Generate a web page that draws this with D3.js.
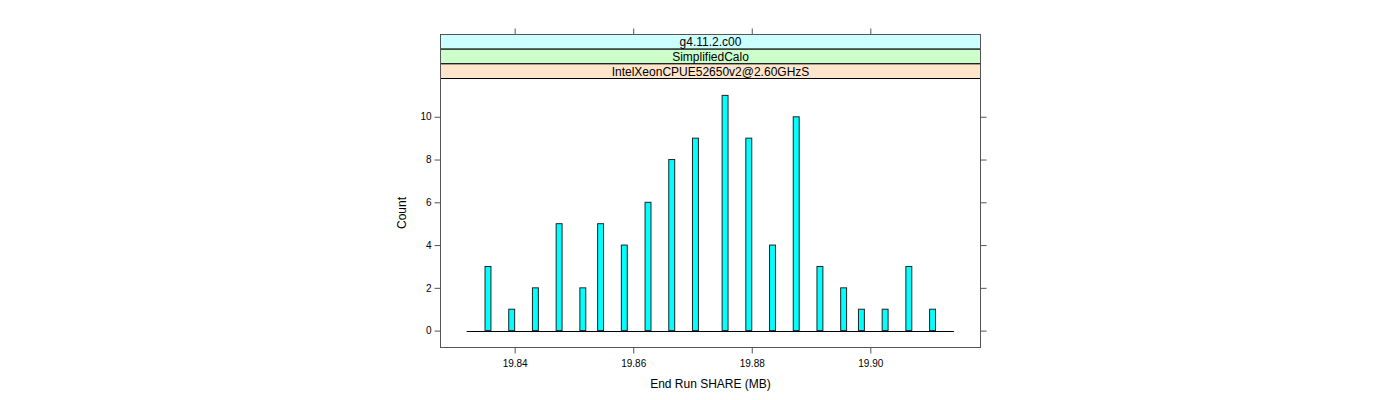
<!DOCTYPE html>
<html><head><meta charset="utf-8">
<script src="https://cdn.jsdelivr.net/npm/d3@7"></script>
<style>body{margin:0;background:#fff}svg{display:block}text{font-family:"Liberation Sans",Arial,sans-serif}</style>
</head><body>
<script>
const binCenters = [19.8355,19.8395,19.8435,19.8475,19.8515,19.8545,19.8585,19.8625,19.8665,19.8705,19.8755,19.8795,19.8835,19.8875,19.8915,19.8955,19.8985,19.9025,19.9065,19.9105];
const counts = [3,1,2,5,2,5,4,6,8,9,11,9,4,10,3,2,1,1,3,1];
const barWidth = 0.001;
const baselineRange = [19.8319, 19.9141];
const xTicks = [19.84,19.86,19.88,19.90];
const yTicks = [0,2,4,6,8,10];
const strips = ["g4.11.2.c00","SimplifiedCalo","IntelXeonCPUE52650v2@2.60GHzS"];
const stripColors = ["#CCFFFF","#CCFFCC","#FFE5CC"];

const W=1400,H=400;
const L=440.5,R=980.5,T=34.5,PT=78.5,B=347.5;
const svg=d3.select("body").append("svg").attr("width",W).attr("height",H);
const x=d3.scaleLinear().domain([19.82749,19.91859]).range([L,R]);
const y=d3.scaleLinear().domain([-0.79,11.79]).range([B,PT]);
const sh=(PT-T)/strips.length;

// strips
strips.forEach((s,i)=>{
  svg.append("rect").attr("x",L).attr("y",T+i*sh).attr("width",R-L).attr("height",sh)
    .attr("fill",stripColors[i]).attr("stroke","#000").attr("stroke-width",1);
  svg.append("text").attr("x",(L+R)/2).attr("y",T+i*sh+sh/2+4.5).attr("text-anchor","middle")
    .attr("font-size",12).attr("fill","#000").text(s);
});

// baseline
svg.append("line").attr("x1",x(baselineRange[0])).attr("x2",x(baselineRange[1]))
  .attr("y1",Math.round(y(0))+0.5).attr("y2",Math.round(y(0))+0.5).attr("stroke","#000");

// bars
svg.selectAll("rect.bar").data(binCenters).enter().append("rect").attr("class","bar")
  .attr("x",(d)=>x(d-barWidth/2)).attr("width",(d)=>x(d+barWidth/2)-x(d-barWidth/2))
  .attr("y",(d,i)=>y(counts[i])).attr("height",(d,i)=>y(0)-y(counts[i]))
  .attr("fill","#00FFFF").attr("stroke","#222").attr("stroke-width",1);

// frame
svg.append("rect").attr("x",L).attr("y",T).attr("width",R-L).attr("height",B-T)
  .attr("fill","none").attr("stroke","#555").attr("stroke-width",1);

// axes
const yl=d3.axisLeft(y).tickValues(yTicks).tickSize(6).tickFormat(d3.format("d"));
const yr=d3.axisRight(y).tickValues(yTicks).tickSize(6).tickFormat("");
const xb=d3.axisBottom(x).tickValues(xTicks).tickSize(6).tickFormat(d3.format(".2f"));
const xt=d3.axisTop(x).tickValues(xTicks).tickSize(6).tickFormat("");
function style(g){g.select(".domain").remove();g.selectAll("line").attr("stroke","#555");
  g.selectAll("text").attr("font-size",10).attr("fill","#000").style("font-family","Liberation Sans, Arial, sans-serif");}
svg.append("g").attr("transform",`translate(${L},0)`).call(yl).call(style).selectAll("text").attr("x",-9);
svg.append("g").attr("transform",`translate(${R},0)`).call(yr).call(style);
svg.append("g").attr("transform",`translate(0,${B})`).call(xb).call(style).selectAll("text").attr("y",12);
svg.append("g").attr("transform",`translate(0,${T})`).call(xt).call(style);

// labels
svg.append("text").attr("x",(L+R)/2).attr("y",388).attr("text-anchor","middle").attr("font-size",12).text("End Run SHARE (MB)");
svg.append("text").attr("transform",`translate(406,${(PT+B)/2}) rotate(-90)`).attr("text-anchor","middle").attr("font-size",12).text("Count");
</script>
</body></html>
